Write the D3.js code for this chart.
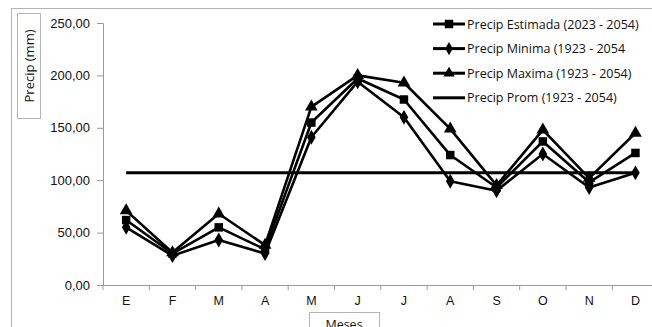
<!DOCTYPE html>
<html>
<head>
<meta charset="utf-8">
<script src="https://cdn.jsdelivr.net/npm/d3@7"></script>
<style>
  html, body { margin: 0; padding: 0; background: #fff; }
  svg { display: block; font-family: "Open Sans", "Liberation Sans", sans-serif; }
</style>
</head>
<body>
<svg id="chart" width="652" height="327"></svg>
<script>
// Monthly precipitation (mm)
const months = ["E", "F", "M", "A", "M", "J", "J", "A", "S", "O", "N", "D"];
const precipEstimada = [62, 30, 55, 34, 155, 197, 177, 124, 93, 137, 98, 126];
const precipMinima   = [55, 28, 43, 30, 141, 194, 160, 99, 90, 125, 93, 107];
const precipMaxima   = [71, 31, 68, 38, 170, 200, 193, 149, 95, 148, 102, 145];
const precipProm     = 107;
const yTicks = [0, 50, 100, 150, 200, 250];
const legendLabels = [
  "Precip Estimada (2023 - 2054)",
  "Precip Minima (1923 - 2054",
  "Precip Maxima (1923 - 2054)",
  "Precip Prom (1923 - 2054)"
];

const svg = d3.select("#chart");
const plot = { left: 103, top: 23, bottom: 285, bandW: 46.3 };

const x = d3.scaleBand()
  .domain(d3.range(months.length))
  .range([plot.left, plot.left + plot.bandW * months.length]);
const y = d3.scaleLinear().domain([0, 250]).range([plot.bottom, plot.top]);
const fmt = v => d3.format(".2f")(v).replace(".", ",");

// outer chart frame
svg.append("rect")
  .attr("x", 11.5).attr("y", 8.5).attr("width", 700).attr("height", 400)
  .attr("fill", "none").attr("stroke", "#b3b3b3").attr("stroke-width", 1);

// y axis
const yAxis = svg.append("g")
  .attr("transform", `translate(${plot.left},0)`)
  .call(d3.axisLeft(y).tickValues(yTicks).tickFormat(fmt).tickSize(6).tickPadding(7));
yAxis.select(".domain").attr("stroke", "#9a9a9a");
yAxis.selectAll(".tick line").attr("stroke", "#9a9a9a");
yAxis.selectAll(".tick text").attr("font-size", 13).attr("fill", "#111");

// x axis
const xAxis = svg.append("g")
  .attr("transform", `translate(0,${plot.bottom})`)
  .call(d3.axisBottom(x).tickFormat(i => months[i]).tickSize(0).tickPadding(11));
xAxis.select(".domain").attr("stroke", "#9a9a9a");
xAxis.selectAll(".tick text").attr("font-size", 12.5).attr("fill", "#111");
svg.append("g").selectAll("line")
  .data(d3.range(months.length + 1))
  .join("line")
  .attr("x1", i => plot.left + i * plot.bandW)
  .attr("x2", i => plot.left + i * plot.bandW)
  .attr("y1", plot.bottom).attr("y2", plot.bottom + 5)
  .attr("stroke", "#9a9a9a");

// axis titles in boxes
svg.append("rect").attr("x", 17.5).attr("y", 13.5).attr("width", 23).attr("height", 105)
  .attr("fill", "#fff").attr("stroke", "#b3b3b3");
svg.append("text")
  .attr("transform", "translate(33.5,66) rotate(-90)")
  .attr("text-anchor", "middle").attr("font-size", 13).attr("fill", "#111")
  .text("Precip (mm)");
svg.append("rect").attr("x", 309.5).attr("y", 312.5).attr("width", 70).attr("height", 30)
  .attr("fill", "#fff").attr("stroke", "#b3b3b3");
svg.append("text")
  .attr("x", 344).attr("y", 329)
  .attr("text-anchor", "middle").attr("font-size", 12.5).attr("fill", "#111")
  .text("Meses");

const cx = i => x(i) + x.bandwidth() / 2;
const line = d3.line().x((d, i) => cx(i)).y(d => y(d));

// average line
svg.append("line")
  .attr("x1", cx(0)).attr("x2", cx(months.length - 1))
  .attr("y1", y(precipProm)).attr("y2", y(precipProm))
  .attr("stroke", "#000").attr("stroke-width", 3);

const series = [
  { values: precipEstimada, symbol: d3.symbolSquare, size: 72 },
  { values: precipMinima, symbol: d3.symbolDiamond, size: 64 },
  { values: precipMaxima, symbol: d3.symbolTriangle, size: 70 }
];

series.forEach(s => {
  svg.append("path")
    .attr("d", line(s.values))
    .attr("fill", "none").attr("stroke", "#000").attr("stroke-width", 2.6)
    .attr("stroke-linejoin", "round");
});
series.forEach(s => {
  svg.append("g").selectAll("path")
    .data(s.values)
    .join("path")
    .attr("transform", (d, i) => `translate(${cx(i)},${y(d)})`)
    .attr("d", d3.symbol().type(s.symbol).size(s.size))
    .attr("fill", "#000");
});

// legend
const legend = svg.append("g");
const legendRows = [
  { symbol: d3.symbolSquare, size: 72 },
  { symbol: d3.symbolDiamond, size: 50 },
  { symbol: d3.symbolTriangle, size: 56 },
  { symbol: null }
];
legendLabels.forEach((label, k) => {
  const ly = 24 + k * 24.6;
  const g = legend.append("g").attr("transform", `translate(433,${ly})`);
  g.append("line").attr("x1", 0).attr("x2", 32).attr("y1", 0).attr("y2", 0)
    .attr("stroke", "#000").attr("stroke-width", 3);
  if (legendRows[k].symbol) {
    g.append("path").attr("transform", "translate(16,0)")
      .attr("d", d3.symbol().type(legendRows[k].symbol).size(legendRows[k].size))
      .attr("fill", "#000");
  }
  g.append("text").attr("x", 34).attr("y", 4.5)
    .attr("font-size", 12.5).attr("fill", "#111")
    .text(label);
});
</script>
</body>
</html>
